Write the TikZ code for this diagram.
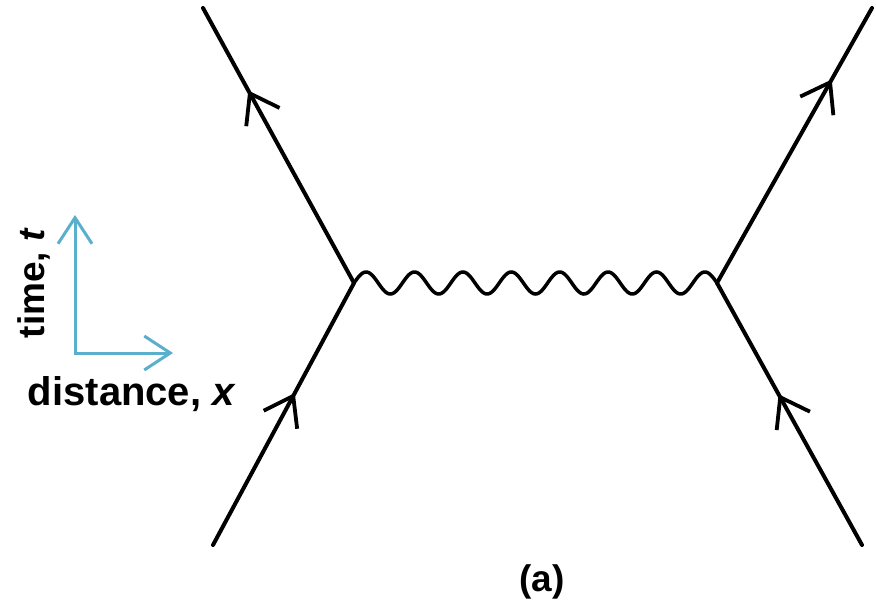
\documentclass[tikz,border=0pt]{standalone}
\usepackage{fontspec}
\setmainfont{Liberation Sans}
\usetikzlibrary{arrows.meta,decorations.markings}
\definecolor{axisblue}{RGB}{90,175,205}
\tikzset{
  fermion/.style={line width=4pt, black, line cap=round},
  barbat/.style={postaction={decorate}, decoration={markings,
      mark=at position #1 with {\arrow{Straight Barb[length=27pt,width=38pt,line width=3.8pt]}}}},
  axisline/.style={line width=3pt, axisblue, {Straight Barb[length=26pt,width=34pt]}-{Straight Barb[length=26pt,width=34pt]}},
  lbl/.style={font=\fontsize{37}{40}\selectfont\bfseries, inner sep=0pt}
}
\begin{document}
\begin{tikzpicture}[x=1pt,y=-1pt]
\useasboundingbox (0,0) rectangle (876,610);
% vertices and ends
\coordinate (vl) at (354,283);
\coordinate (vr) at (717,283);
\coordinate (tl) at (203,8);
\coordinate (tr) at (872,8);
\coordinate (bl) at (213,545);
\coordinate (br) at (862,545);
% fermion lines
\draw[fermion, barbat=0.58] (bl) -- (vl);
\draw[fermion, barbat=0.70] (vl) -- (tl);
\draw[fermion, barbat=0.575] (br) -- (vr);
\draw[fermion, barbat=0.74] (vr) -- (tr);
% photon
\draw[line width=3.5pt, black] plot[domain=0:1, samples=400, smooth] ({354+363*\x}, {283 - 11*sin(7.5*360*\x)});
% axes
\coordinate (ao) at (75,353);
\coordinate (ay) at (75,215);
\coordinate (ax) at (173,353);
\draw[axisline] (ay) -- (ao) -- (ax);
% labels
\node[lbl, rotate=90, anchor=base] (tlab) at (44,283) {time, \textit{t}};
\node[lbl, font=\fontsize{40}{42}\selectfont\bfseries, anchor=base] (xlab) at (132,405) {distance, \textit{x}};
\node[lbl] (alab) at (542,582) {(a)};
\end{tikzpicture}
\end{document}
